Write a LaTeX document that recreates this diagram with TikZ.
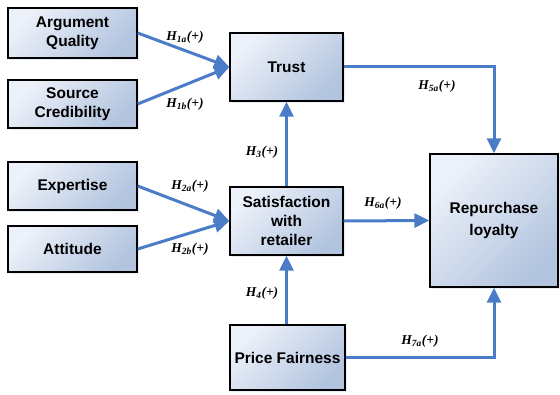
\documentclass[tikz,border=0pt]{standalone}
\usepackage{fontspec}
\setmainfont{Liberation Sans}
\newfontfamily\hypfont{Liberation Serif}
\usetikzlibrary{arrows.meta}
\usetikzlibrary{shadows}

\definecolor{boxlight}{HTML}{EDF1F9}
\definecolor{boxdark}{HTML}{B2C4DF}
\definecolor{linkblue}{HTML}{4A7CC7}

\newcommand{\hyp}[1]{H\textsubscript{#1}(+)}

\tikzset{
    factor/.style={draw=black, line width=1.4pt, top color=boxlight,
        bottom color=boxdark, shading angle=45, align=center, inner sep=0pt,
        font=\fontsize{15.5}{19}\selectfont\bfseries,
        drop shadow={shadow xshift=2pt, shadow yshift=-2pt, fill=boxdark, opacity=0.3}},
    link/.style={draw=linkblue, line width=3pt, -{Triangle[length=15pt,width=14pt]}},
    hyplabel/.style={font=\hypfont\fontsize{13.5}{15}\selectfont\bfseries\itshape},
}

\begin{document}
\begin{tikzpicture}[x=1pt,y=-1pt]
    \useasboundingbox (0,0) rectangle (560,395);
    % antecedents
    \node[factor, minimum width=129, minimum height=50] (aq) at (72.5,33) {Argument\\Quality};
    \node[factor, minimum width=129, minimum height=48] (sc) at (72.5,104) {Source\\Credibility};
    \node[factor, minimum width=129, minimum height=48] (ex) at (72.5,186) {Expertise};
    \node[factor, minimum width=129, minimum height=46] (at) at (72.5,249) {Attitude};
    % mediators and outcome
    \node[factor, minimum width=113, minimum height=68] (trust) at (286.5,67) {Trust};
    \node[factor, minimum width=113, minimum height=68] (sat) at (286.5,221) {Satisfaction\\with\\retailer};
    \node[factor, minimum width=115, minimum height=65] (pf) at (287.5,357.5) {Price Fairness};
    \node[factor, minimum width=128, minimum height=133, font=\fontsize{15.5}{22}\selectfont\bfseries] (rl) at (494,220.5) {Repurchase\\loyalty};

    \foreach \a/\b in {aq/trust,sc/trust,ex/sat,at/sat,sat/rl}
        \draw[link] (\a.east) -- (\b.west);
    \draw[link] (sat.north) -- (trust.south);
    \draw[link] (pf.north -| sat.south) -- (sat.south);
    \draw[link] (trust.east) -| (rl.north);
    \draw[link] (pf.east) -| (rl.south);

    \foreach \x/\y/\s in {185/37/1a,185/104/1b,190/186/2a,190/249/2b,262/152/3,
                          262/293/4,437/86/5a,383/203/6a,420/341/7a}
        \node[hyplabel] (h\s) at (\x,\y) {\hyp{\s}};
\end{tikzpicture}
\end{document}
